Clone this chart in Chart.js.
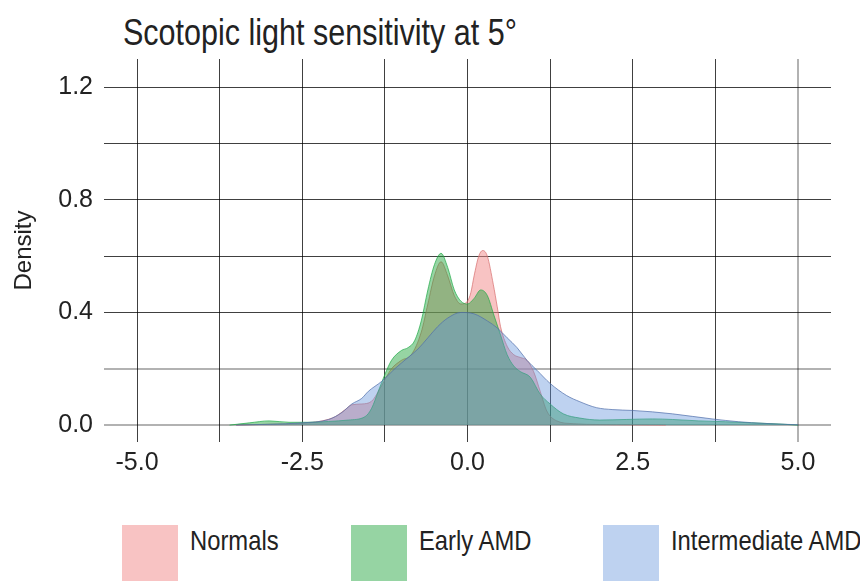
<!DOCTYPE html>
<html lang="en">
<head>
    <meta charset="UTF-8">
    <title>Scotopic light sensitivity at 5°</title>
    <script src="https://cdn.jsdelivr.net/npm/chart.js@4.4.1/dist/chart.umd.min.js"></script>
    <style>
        body{
            margin: 0;
            width: 860px;
            height: 581px;
            position: relative;
            overflow: hidden;
            background: #fff;
            font-family: "Liberation Sans", Arial, sans-serif;
            color: #222;
        }
        #title{
            position: absolute;
            left: 123px;
            top: 14px;
            font-size: 37px;
            line-height: 37px;
            white-space: nowrap;
            transform: scaleX(0.825);
            transform-origin: left top;
        }
        #box{
            position: absolute;
            left: 0;
            top: 0;
            width: 860px;
            height: 500px;
        }
        #legend{
            position: absolute;
            left: 122px;
            top: 525px;
            display: flex;
        }
        .item{
            display: flex;
            align-items: flex-start;
            margin-right: 72px;
        }
        .patch{
            width: 56px;
            height: 56px;
            margin-right: 12px;
        }
        .label{
            font-size: 28px;
            line-height: 28px;
            margin-top: 2px;
            white-space: nowrap;
            transform: scaleX(0.85);
            transform-origin: left top;
        }
    </style>
</head>
<body>
<div id="title">Scotopic light sensitivity at 5°</div>
<div id="box"><canvas id="myChart"></canvas></div>
<div id="legend"></div>
<script>
    // values
    var seriesNames = ['Normals', 'Early AMD', 'Intermediate AMD'];

    var normalsX = [-3.5, -3.0, -2.5, -2.2, -2.0, -1.85, -1.75, -1.6, -1.45, -1.3, -1.15, -1.0, -0.85, -0.7, -0.6, -0.5, -0.4, -0.3, -0.2, -0.1, 0.0, 0.05, 0.1, 0.17, 0.23, 0.3, 0.39, 0.45, 0.5, 0.6, 0.7, 0.8, 0.9, 1.0, 1.1, 1.2, 1.35, 1.6, 2.0, 2.5, 3.0];
    var normalsY = [0, 0.003, 0.006, 0.015, 0.03, 0.055, 0.072, 0.075, 0.085, 0.14, 0.2, 0.23, 0.25, 0.33, 0.43, 0.53, 0.58, 0.53, 0.46, 0.43, 0.44, 0.47, 0.53, 0.6, 0.62, 0.6, 0.5, 0.42, 0.35, 0.28, 0.25, 0.24, 0.23, 0.19, 0.12, 0.05, 0.015, 0.005, 0.002, 0.001, 0];

    var earlyX = [-3.6, -3.3, -3.0, -2.7, -2.4, -2.1, -1.8, -1.55, -1.45, -1.35, -1.25, -1.15, -1.0, -0.9, -0.8, -0.7, -0.6, -0.5, -0.4, -0.3, -0.2, -0.1, 0.0, 0.1, 0.2, 0.3, 0.4, 0.5, 0.6, 0.7, 0.8, 0.95, 1.1, 1.25, 1.45, 1.7, 2.0, 2.4, 2.8, 3.1, 3.5, 3.9, 4.3, 4.7, 5.0];
    var earlyY = [0, 0.008, 0.015, 0.01, 0.01, 0.013, 0.018, 0.03, 0.06, 0.12, 0.18, 0.23, 0.265, 0.275, 0.3, 0.37, 0.48, 0.57, 0.61, 0.56, 0.48, 0.44, 0.43, 0.45, 0.48, 0.46, 0.39, 0.32, 0.25, 0.21, 0.19, 0.17, 0.11, 0.075, 0.04, 0.025, 0.018, 0.02, 0.022, 0.02, 0.015, 0.012, 0.008, 0.004, 0];

    var intermX = [-3.5, -3.0, -2.5, -2.1, -1.9, -1.75, -1.6, -1.5, -1.3, -1.1, -0.9, -0.75, -0.6, -0.45, -0.3, -0.1, 0.1, 0.3, 0.45, 0.6, 0.75, 0.9, 1.05, 1.25, 1.5, 1.7, 1.95, 2.2, 2.5, 2.8, 3.1, 3.4, 3.7, 4.1, 4.5, 5.0];
    var intermY = [0, 0.003, 0.008, 0.02, 0.045, 0.075, 0.095, 0.12, 0.155, 0.2, 0.24, 0.27, 0.31, 0.35, 0.38, 0.40, 0.395, 0.37, 0.345, 0.31, 0.275, 0.23, 0.195, 0.148, 0.105, 0.083, 0.062, 0.055, 0.052, 0.047, 0.04, 0.031, 0.022, 0.012, 0.006, 0.001];

    // axes
    var xGrid = [-5, -3.75, -2.5, -1.25, 0, 1.25, 2.5, 3.75, 5];
    var xLabels = [-5, -2.5, 0, 2.5, 5];
    var yGrid = [0, 0.2, 0.4, 0.6, 0.8, 1.0, 1.2];
    var yLabels = [0, 0.4, 0.8, 1.2];

    var fills = ['rgba(241, 135, 135, 0.5)', 'rgba(22, 160, 50, 0.45)', 'rgba(92, 142, 217, 0.4)'];
    var edges = ['rgba(215, 110, 110, 0.7)', 'rgba(30, 170, 70, 0.7)', 'rgba(80, 110, 170, 0.7)'];

    function toPoints(xs, ys) {
        var pts = [];
        xs.forEach(function (x, i) {
            pts.push({x: x, y: ys[i]});
        });
        return pts;
    }

    var allX = [normalsX, earlyX, intermX];
    var allY = [normalsY, earlyY, intermY];

    var datasets = seriesNames.map(function (name, i) {
        return {
            label: name,
            data: toPoints(allX[i], allY[i]),
            backgroundColor: fills[i],
            borderColor: edges[i],
            borderWidth: 1,
            pointRadius: 0,
            fill: 'origin',
            cubicInterpolationMode: 'monotone',
            order: seriesNames.length - i   // later series painted on top
        };
    });

    function near(v, list) {
        return list.some(function (t) { return Math.abs(t - v) < 1e-6; });
    }

    // lines that look washed out and thick in the picture
    var softY = [0, 0.2];
    var softX = [5];

    var htmlLegend = {
        id: 'htmlLegend',
        afterUpdate: function (chart) {
            var box = document.getElementById('legend');
            box.innerHTML = '';
            chart.data.datasets.forEach(function (ds) {
                var item = document.createElement('div');
                item.className = 'item';
                var patch = document.createElement('div');
                patch.className = 'patch';
                patch.style.background = ds.backgroundColor;
                var txt = document.createElement('div');
                txt.className = 'label';
                txt.textContent = ds.label;
                item.appendChild(patch);
                item.appendChild(txt);
                box.appendChild(item);
                // scaled text keeps its unscaled box, give the difference back
                txt.style.marginRight = (-0.15 * txt.offsetWidth) + 'px';
            });
        }
    };

    Chart.defaults.font.family = '"Liberation Sans", Arial, sans-serif';
    Chart.defaults.font.size = 25;
    Chart.defaults.color = '#222';

    var ctx = document.getElementById('myChart').getContext('2d');
    var myChart = new Chart(ctx, {
        type: 'line',
        data: {datasets: datasets},
        plugins: [htmlLegend],
        options: {
            responsive: true,
            maintainAspectRatio: false,
            animation: false,
            layout: {padding: {top: 59, right: 29, left: 0, bottom: 0}},
            plugins: {
                legend: {display: false},
                title: {display: false},
                tooltip: {enabled: false}
            },
            scales: {
                x: {
                    type: 'linear',
                    min: -5.5,
                    max: 5.5,
                    afterBuildTicks: function (scale) {
                        scale.ticks = xGrid.map(function (v) { return {value: v}; });
                    },
                    afterFit: function (scale) { scale.height = 58; },
                    border: {display: false},
                    grid: {
                        drawTicks: false,
                        color: function (c) { return c.tick && near(c.tick.value, softX) ? 'rgba(0,0,0,0.3)' : 'rgba(0,0,0,0.75)'; },
                        lineWidth: function (c) { return c.tick && near(c.tick.value, softX) ? 2 : 1; }
                    },
                    ticks: {
                        autoSkip: false,
                        maxRotation: 0,
                        padding: 6,
                        callback: function (v) { return near(v, xLabels) ? v.toFixed(1) : ''; }
                    }
                },
                y: {
                    min: -0.06,
                    max: 1.3,
                    afterBuildTicks: function (scale) {
                        scale.ticks = yGrid.map(function (v) { return {value: v}; });
                    },
                    afterFit: function (scale) { scale.width = 104; },
                    border: {display: false},
                    title: {
                        display: true,
                        text: 'Density',
                        font: {size: 24},
                        padding: {top: 10, bottom: 0}
                    },
                    grid: {
                        drawTicks: false,
                        color: function (c) { return c.tick && near(c.tick.value, softY) ? 'rgba(0,0,0,0.3)' : 'rgba(0,0,0,0.75)'; },
                        lineWidth: function (c) { return c.tick && near(c.tick.value, softY) ? 2 : 1; }
                    },
                    ticks: {
                        padding: 11,
                        callback: function (v) { return near(v, yLabels) ? v.toFixed(1) : ''; }
                    }
                }
            }
        }
    });
</script>
</body>
</html>
